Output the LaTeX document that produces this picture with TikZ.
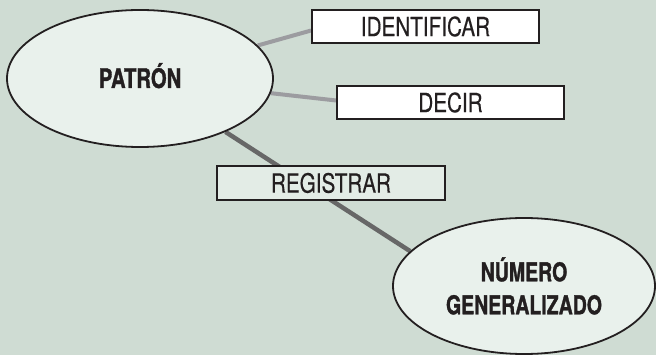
\documentclass[tikz,border=0pt]{standalone}
\usepackage{fontspec}
\setmainfont{TeX Gyre Heros}
\newfontfamily\condbold[FakeStretch=0.75,FakeBold=1.2]{TeX Gyre Heros}
\newfontfamily\condreg[FakeStretch=0.78,FakeBold=0.4]{TeX Gyre Heros}
\usetikzlibrary{shapes.geometric}
\definecolor{bgc}{HTML}{CFDCD3}
\definecolor{ellfill}{HTML}{E9F1EC}
\definecolor{regfill}{HTML}{E3ECE6}
\definecolor{lightline}{HTML}{9C9CA0}
\definecolor{darkline}{HTML}{676767}
\definecolor{inkc}{HTML}{231F20}
\pgfdeclarelayer{back}
\pgfdeclarelayer{edges}
\pgfsetlayers{back,edges,main}
\tikzset{
  concept/.style={ellipse, draw=inkc, line width=1.8pt, fill=ellfill, inner sep=0pt,
    text=inkc, align=center},
  wordbox/.style={rectangle, draw=inkc, line width=1.8pt, fill=white, inner sep=0pt,
    minimum width=227pt, minimum height=33pt, text=inkc,
    font=\condreg\fontsize{26.5}{26.5}\selectfont},
  lightlink/.style={draw=lightline, line width=4pt},
  darklink/.style={draw=darkline, line width=4.5pt}
}
\begin{document}
\begin{tikzpicture}[x=1pt,y=1pt]
\begin{pgfonlayer}{back}
\fill[bgc] (0,0) rectangle (656,-355);
\end{pgfonlayer}
\useasboundingbox (0,0) rectangle (656,-355);
\node[concept, minimum width=266pt, minimum height=137pt, text height=19pt, text depth=0pt,
  font=\condbold\bfseries\fontsize{27}{27}\selectfont] (patron) at (140,-78.5) {PATRÓN};
\node[concept, minimum width=262pt, minimum height=136pt,
  font=\condbold\bfseries\fontsize{26}{33}\selectfont] (numero) at (524,-286) {NÚMERO\\GENERALIZADO};
\node[wordbox] (ident) at (425.5,-26.5) {IDENTIFICAR};
\node[wordbox] (decir) at (450.5,-102.5) {DECIR};
\node[wordbox, fill=regfill, minimum width=228pt, minimum height=34pt] (reg) at (331,-183) {REGISTRAR};
\begin{pgfonlayer}{edges}
\draw[lightlink] (patron) -- ([yshift=-4pt]ident.west);
\draw[lightlink] (patron) -- ([yshift=2pt]decir.west);
\draw[darklink] (patron.-32) -- (numero.163);
\end{pgfonlayer}
\end{tikzpicture}
\end{document}
